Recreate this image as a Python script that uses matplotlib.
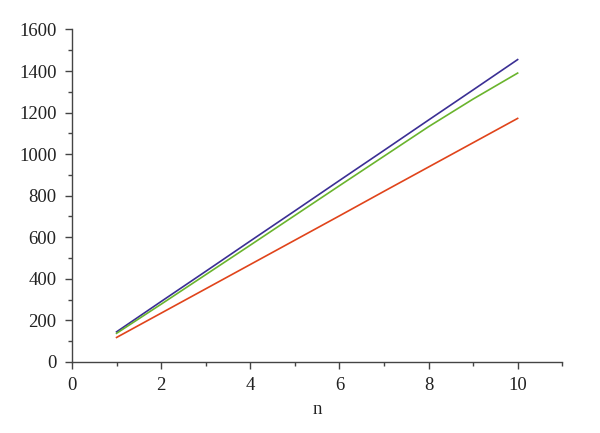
#!/usr/bin/env python3

import matplotlib as mpl
mpl.use("Agg")
import matplotlib.pyplot as plt
from matplotlib.ticker import MultipleLocator

n = [1, 2, 3, 4, 5, 6, 7, 8, 9, 10]
blue_vals = [145, 291, 436, 582, 727, 873, 1018, 1164, 1309, 1455]
green_vals = [138, 278, 420, 562, 705, 848, 990, 1132, 1265, 1390]
red_vals = [118, 235, 352, 469, 586, 703, 821, 938, 1055, 1172]

x_ticks = [0, 2, 4, 6, 8, 10]
y_ticks = [0, 200, 400, 600, 800, 1000, 1200, 1400, 1600]


def plot_chart():
    plt.rcParams['font.family'] = ['Liberation Serif', 'DejaVu Serif']
    fig = plt.figure(figsize=(6, 4.33), dpi=100)
    ax = fig.add_axes([0.12, 0.164, 0.817, 0.768])

    ax.plot(n, blue_vals, color="#3b2f94", lw=1.2)
    ax.plot(n, green_vals, color="#6ab42d", lw=1.2)
    ax.plot(n, red_vals, color="#e0441b", lw=1.2)

    ax.set_xlim(0, 11)
    ax.set_ylim(0, 1600)
    ax.set_xticks(x_ticks)
    ax.set_yticks(y_ticks)
    ax.xaxis.set_minor_locator(MultipleLocator(1))
    ax.yaxis.set_minor_locator(MultipleLocator(100))

    for side in ("top", "right"):
        ax.spines[side].set_visible(False)
    for side in ("left", "bottom"):
        ax.spines[side].set_color("#444444")
        ax.spines[side].set_linewidth(1.0)

    ax.tick_params(which="major", direction="out", length=5, width=1,
                   color="#444444", labelsize=13.5, labelcolor="#222222", pad=6)
    ax.tick_params(which="minor", direction="out", length=3, width=1,
                   color="#444444")
    ax.set_xlabel("n", fontsize=13.5, color="#222222", labelpad=5)

    fig.savefig("out.png", dpi=100)
    plt.close(fig)


if __name__ == "__main__":
    plot_chart()
